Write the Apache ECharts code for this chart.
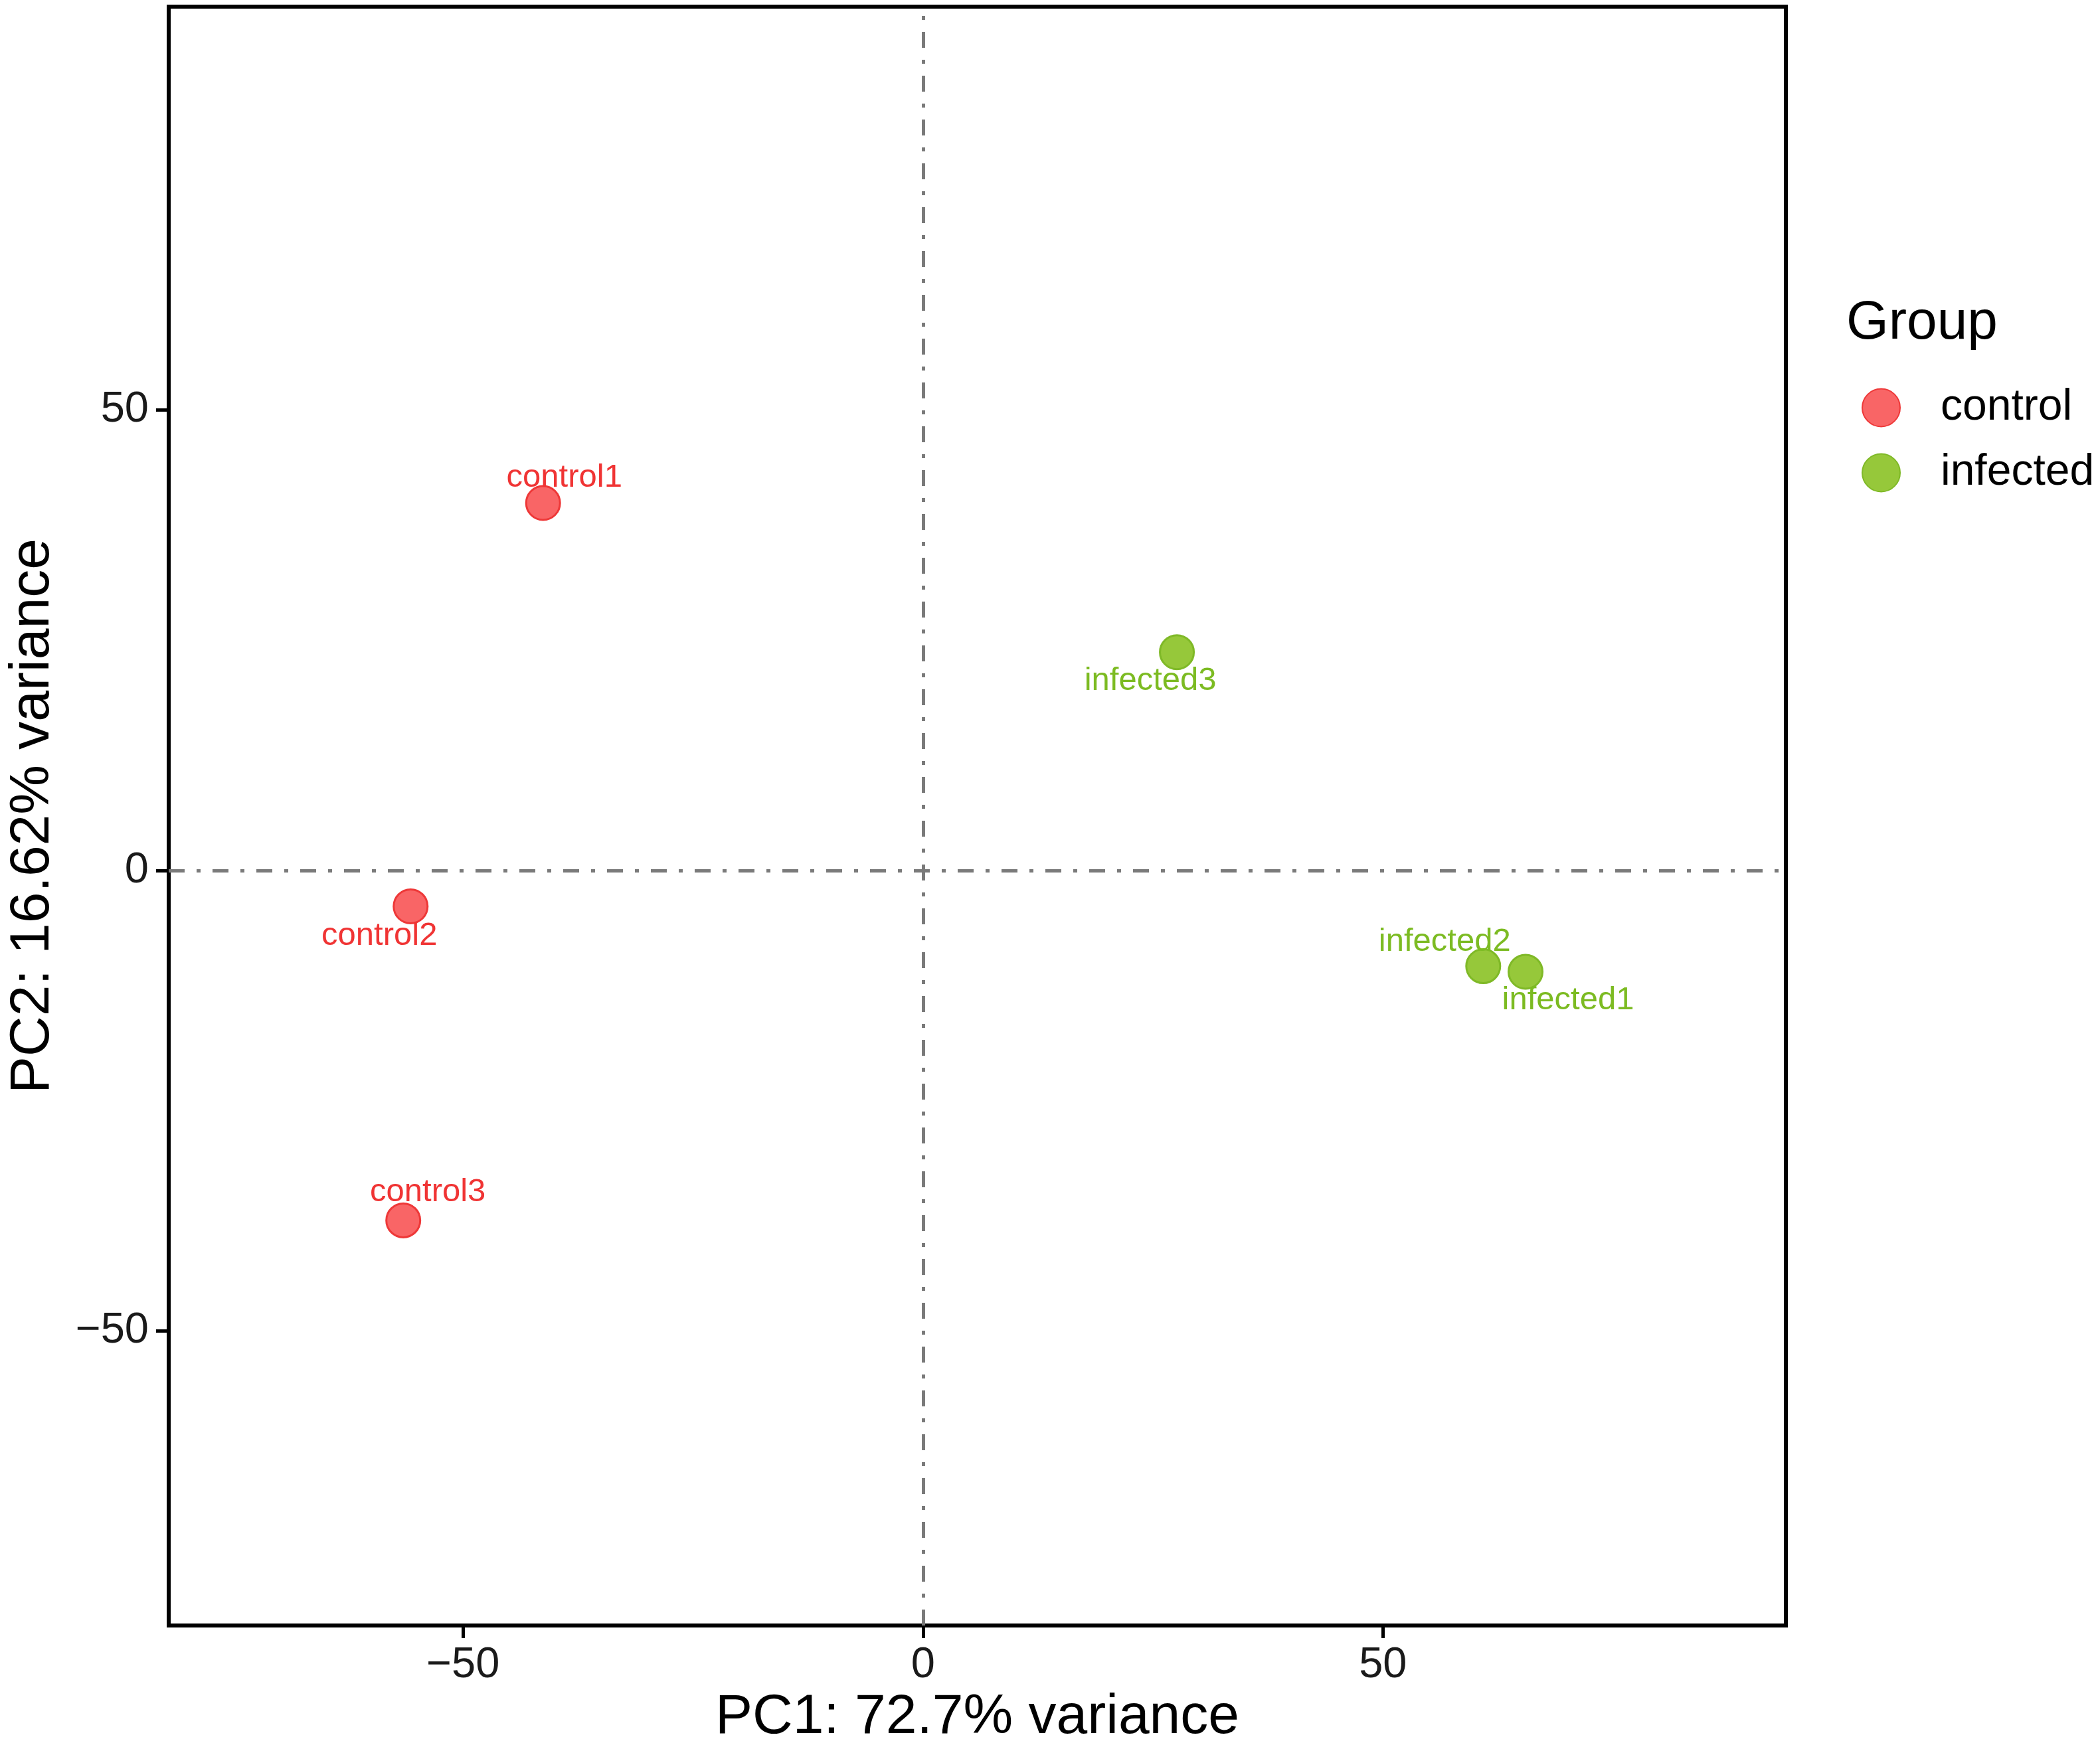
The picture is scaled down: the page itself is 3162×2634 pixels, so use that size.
<!DOCTYPE html>
<html>
<head>
<meta charset="utf-8">
<script src="https://cdn.jsdelivr.net/npm/echarts@6/dist/echarts.min.js"></script>
<style>
html,body{margin:0;padding:0;background:#fff;}
#chart{width:3162px;height:2634px;}
</style>
</head>
<body>
<div id="chart"></div>
<script>
// ---- data ----
var groups = ['control', 'infected'];
var controlNames = ['control1', 'control2', 'control3'];
var controlPC1 = [-41.3, -55.7, -56.5];
var controlPC2 = [39.9, -3.9, -38.0];
var infectedNames = ['infected1', 'infected2', 'infected3'];
var infectedPC1 = [65.5, 60.9, 27.6];
var infectedPC2 = [-11.0, -10.4, 23.7];
var tickValues = [-50, 0, 50];
var xAxisTitle = 'PC1: 72.7% variance';
var yAxisTitle = 'PC2: 16.62% variance';
var legendTitle = 'Group';

// ---- label placement (style, px offsets, kept apart from data) ----
var controlLabelOffsets = [[32, -38], [-47, 45], [37, -42]];
var infectedLabelOffsets = [[64, 43], [-58, -37], [-40, 43]];

var FONT = '"Liberation Sans", Arial, Helvetica, sans-serif';
var colors = {
  control: {fill: '#F96566', border: '#EE3838', text: '#F03434'},
  infected: {fill: '#96C83A', border: '#7FB927', text: '#7CBB22'}
};

function buildData(names, xs, ys, offs) {
  return names.map(function (n, i) {
    return {name: n, value: [xs[i], ys[i]], label: {offset: offs[i]}};
  });
}
function fmt(v) { return v < 0 ? '\u2212' + Math.abs(v) : String(v); }

function scatterSeries(name, data, c) {
  return {
    name: name,
    type: 'scatter',
    z: 5,
    symbol: 'circle',
    symbolSize: 51,
    itemStyle: {color: c.fill, borderColor: c.border, borderWidth: 3, opacity: 1},
    label: {
      show: true,
      position: 'inside',
      formatter: '{b}',
      color: c.text,
      fontFamily: FONT,
      fontSize: 49
    },
    emphasis: {disabled: true},
    data: data
  };
}

var chart = echarts.init(document.getElementById('chart'), null, {renderer: 'canvas'});

var axisCommon = {
  type: 'value',
  min: -82,
  max: 93.8,
  nameLocation: 'middle',
  nameTextStyle: {fontFamily: FONT, fontSize: 84, color: '#000'},
  axisLine: {show: true, onZero: false, lineStyle: {color: '#000', width: 6}},
  axisTick: {show: true, customValues: tickValues, length: 19, lineStyle: {color: '#000', width: 5}},
  axisLabel: {customValues: tickValues, formatter: fmt, fontFamily: FONT, fontSize: 65, color: '#1a1a1a'},
  splitLine: {show: false}
};

var option = {
  backgroundColor: '#ffffff',
  animation: false,
  title: {
    text: legendTitle,
    left: 2780,
    top: 446,
    padding: 0,
    textStyle: {fontFamily: FONT, fontSize: 82, fontWeight: 'normal', color: '#000'}
  },
  legend: {
    orient: 'vertical',
    left: 2803,
    top: 581,
    itemWidth: 57,
    itemHeight: 57,
    itemGap: 32,
    icon: 'circle',
    padding: 0,
    textStyle: {fontFamily: FONT, fontSize: 66, color: '#000', padding: [0, 0, 0, 56]},
    data: groups
  },
  grid: {
    left: 244, right: 473, top: 10, bottom: 181,
    show: true, borderColor: '#000', borderWidth: 6, backgroundColor: '#fff',
    containLabel: false
  },
  xAxis: Object.assign({}, axisCommon, {
    name: xAxisTitle,
    nameGap: 93,
    axisLabel: Object.assign({}, axisCommon.axisLabel, {margin: 27})
  }),
  yAxis: Object.assign({}, axisCommon, {
    name: yAxisTitle,
    nameGap: 162,
    axisLabel: Object.assign({}, axisCommon.axisLabel, {margin: 30})
  }),
  series: [
    {
      name: 'zero-lines',
      type: 'scatter',
      z: 1,
      data: [],
      silent: true,
      markLine: {
        silent: true,
        symbol: ['none', 'none'],
        label: {show: false},
        lineStyle: {color: '#7a7a7a', width: 5, type: [24, 18, 6, 18]},
        emphasis: {disabled: true},
        data: [{xAxis: 0}, {yAxis: 0}]
      }
    },
    scatterSeries('control', buildData(controlNames, controlPC1, controlPC2, controlLabelOffsets), colors.control),
    scatterSeries('infected', buildData(infectedNames, infectedPC1, infectedPC2, infectedLabelOffsets), colors.infected)
  ]
};
chart.setOption(option);
</script>
</body>
</html>
